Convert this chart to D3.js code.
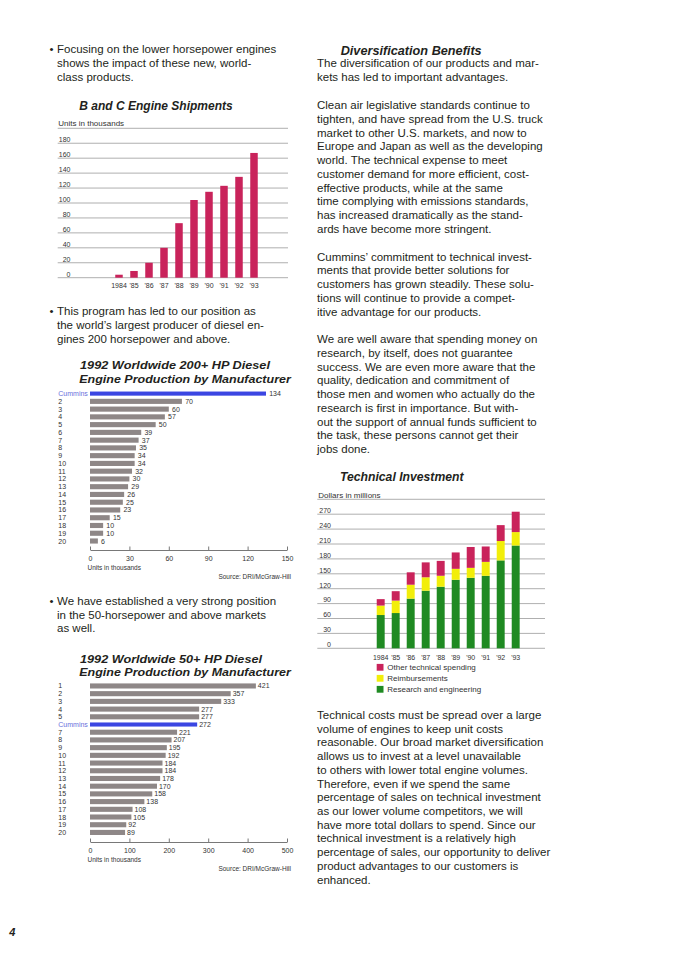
<!DOCTYPE html>
<html>
<head>
<meta charset="utf-8">
<script src="https://cdn.jsdelivr.net/npm/d3@7"></script>
<style>
  body { margin: 0; background: #fff; }
  svg { display: block; font-family: "Liberation Sans", Arial, Helvetica, sans-serif; }
</style>
</head>
<body>
<script>

// B and C Engine Shipments, units in thousands
var shipYears = ["1984", "'85", "'86", "'87", "'88", "'89", "'90", "'91", "'92", "'93"];
var shipUnits = [4, 9, 20, 40, 73, 104, 115, 123, 135, 167];
var shipTicks = [0, 20, 40, 60, 80, 100, 120, 140, 160, 180];

// 1992 worldwide 200+ HP diesel production, units in thousands
var hp200Makers = ["Cummins", "2", "3", "4", "5", "6", "7", "8", "9", "10",
                   "11", "12", "13", "14", "15", "16", "17", "18", "19", "20"];
var hp200Units = [134, 70, 60, 57, 50, 39, 37, 35, 34, 34, 32, 30, 29, 26, 25, 23, 15, 10, 10, 6];
var hp200Ticks = [0, 30, 60, 90, 120, 150];

// 1992 worldwide 50+ HP diesel production, units in thousands
var hp50Makers = ["1", "2", "3", "4", "5", "Cummins", "7", "8", "9", "10",
                  "11", "12", "13", "14", "15", "16", "17", "18", "19", "20"];
var hp50Units = [421, 357, 333, 277, 277, 272, 221, 207, 195, 192, 184, 184, 178, 170, 158, 138, 108, 105, 92, 89];
var hp50Ticks = [0, 100, 200, 300, 400, 500];

// Technical investment, dollars in millions
var techYears = ["1984", "'85", "'86", "'87", "'88", "'89", "'90", "'91", "'92", "'93"];
var techResearch = [67, 71, 100, 116, 124, 138, 142, 146, 177, 207];
var techReimburse = [19, 25, 28, 27, 22, 22, 20, 28, 39, 27];
var techOther = [13, 19, 25, 30, 30, 33, 42, 31, 32, 41];
var techTicks = [0, 30, 60, 90, 120, 150, 180, 210, 240, 270];
var techLegend = ["Other technical spending", "Reimbursements", "Research and engineering"];

var ink = "#231f20",
    grid = "#9a9a9a",
    crimson = "#c9235b",
    yellow = "#f2ee0a",
    green = "#1f8a22",
    gray = "#8e8787",
    blue = "#3b46e2",
    blueText = "#6a6edc",
    lineStep = 13.72;

var svg = d3.select("body").append("svg")
  .attr("width", 684)
  .attr("height", 970);

svg.append("rect").attr("width", 684).attr("height", 970).attr("fill", "#fff");

// ---------- text helpers ----------
function para(x, y0, lines) {
  svg.append("g").selectAll("text")
    .data(lines)
    .join("text")
      .attr("x", x)
      .attr("y", function (d, i) { return y0 + 4 + i * lineStep; })
      .attr("font-size", 11.5)
      .attr("fill", ink)
      .text(function (d) { return d; });
}

function bullet(y0, lines) {
  svg.append("text")
    .attr("x", 49.5)
    .attr("y", y0 + 4)
    .attr("font-size", 11.5)
    .attr("fill", ink)
    .text("\u2022");
  para(57, y0, lines);
}

function heading(x, y, str, size, width) {
  size = size || 12.5;
  var t = svg.append("text")
    .attr("x", x)
    .attr("y", y + size * 0.36)
    .attr("font-size", size)
    .attr("font-weight", "bold")
    .attr("font-style", "italic")
    .attr("fill", ink)
    .text(str);
  if (width) t.attr("textLength", width).attr("lengthAdjust", "spacingAndGlyphs");
  return t;
}

function small(x, y, str, size, anchor) {
  return svg.append("text")
    .attr("x", x)
    .attr("y", y + size * 0.36)
    .attr("font-size", size)
    .attr("text-anchor", anchor || "start")
    .attr("fill", "#333")
    .text(str);
}

// ---------- vertical column charts ----------
function shipmentsChart() {
  var x = d3.scaleBand().domain(shipYears).range([111.5, 261.5]).paddingInner(0.5).paddingOuter(0.25);
  var y = d3.scaleLinear().domain([0, 200]).range([277.7, 128.3]);
  var g = svg.append("g");

  g.selectAll("line.grid")
    .data(shipTicks.concat([200]))
    .join("line")
      .attr("class", "grid")
      .attr("x1", 57.7).attr("x2", 288)
      .attr("y1", function (d) { return y(d); })
      .attr("y2", function (d) { return y(d); })
      .attr("stroke", grid)
      .attr("stroke-width", 0.8);

  g.selectAll("text.ytick")
    .data(shipTicks)
    .join("text")
      .attr("class", "ytick")
      .attr("x", 70.5)
      .attr("y", function (d) { return y(d) - 1.2; })
      .attr("text-anchor", "end")
      .attr("font-size", 7)
      .attr("fill", "#333")
      .text(function (d) { return d; });

  g.selectAll("rect")
    .data(shipUnits)
    .join("rect")
      .attr("x", function (d, i) { return x(shipYears[i]); })
      .attr("y", function (d) { return y(d); })
      .attr("width", x.bandwidth())
      .attr("height", function (d) { return y(0) - y(d); })
      .attr("fill", crimson);

  var ax = g.append("g")
    .attr("transform", "translate(0," + y(0) + ")")
    .call(d3.axisBottom(x).tickSize(0).tickPadding(5.6));
  ax.select(".domain").remove();
  ax.selectAll("text").attr("font-size", 7).attr("fill", "#333")
    .attr("font-family", "Liberation Sans, Arial, sans-serif");

  small(58.3, 123.3, "Units in thousands", 8);
  heading(79.3, 106, "B and C Engine Shipments", 12);
}

function techChart() {
  var rows = techYears.map(function (yr, i) {
    return { year: yr, research: techResearch[i], reimburse: techReimburse[i], other: techOther[i] };
  });
  var keys = ["research", "reimburse", "other"];
  var colors = { research: green, reimburse: yellow, other: crimson };
  var stacked = d3.stack().keys(keys)(rows);

  var x = d3.scaleBand().domain(techYears).range([373.2, 523.2]).paddingInner(0.47).paddingOuter(0.235);
  var y = d3.scaleLinear().domain([0, 300]).range([648.3, 499.3]);
  var g = svg.append("g");

  g.selectAll("line.grid")
    .data(techTicks.concat([300]))
    .join("line")
      .attr("class", "grid")
      .attr("x1", 317.3).attr("x2", 545)
      .attr("y1", function (d) { return y(d); })
      .attr("y2", function (d) { return y(d); })
      .attr("stroke", grid)
      .attr("stroke-width", 0.8);

  g.selectAll("text.ytick")
    .data(techTicks)
    .join("text")
      .attr("class", "ytick")
      .attr("x", 331)
      .attr("y", function (d) { return y(d) - 1.2; })
      .attr("text-anchor", "end")
      .attr("font-size", 7)
      .attr("fill", "#333")
      .text(function (d) { return d; });

  g.selectAll("g.layer")
    .data(stacked)
    .join("g")
      .attr("class", "layer")
      .attr("fill", function (s) { return colors[s.key]; })
    .selectAll("rect")
    .data(function (s) { return s; })
    .join("rect")
      .attr("x", function (d) { return x(d.data.year); })
      .attr("y", function (d) { return y(d[1]); })
      .attr("width", x.bandwidth())
      .attr("height", function (d) { return y(d[0]) - y(d[1]); });

  var ax = g.append("g")
    .attr("transform", "translate(0," + y(0) + ")")
    .call(d3.axisBottom(x).tickSize(0).tickPadding(6.4));
  ax.select(".domain").remove();
  ax.selectAll("text").attr("font-size", 7).attr("fill", "#333")
    .attr("font-family", "Liberation Sans, Arial, sans-serif");

  var legColors = [crimson, yellow, green];
  var leg = g.selectAll("g.leg")
    .data(techLegend)
    .join("g")
      .attr("class", "leg")
      .attr("transform", function (d, i) { return "translate(376.7," + (667.3 + i * 11) + ")"; });
  leg.append("rect")
    .attr("x", 0).attr("y", -3.4)
    .attr("width", 6.8).attr("height", 6.8)
    .attr("fill", function (d, i) { return legColors[i]; });
  leg.append("text")
    .attr("x", 10.6).attr("y", 2.9)
    .attr("font-size", 8)
    .attr("fill", "#333")
    .text(function (d) { return d; });

  small(318.3, 495, "Dollars in millions", 8);
  heading(340, 476.7, "Technical Investment", 12.2);
}

// ---------- horizontal bar charts ----------
function hbarChart(cats, vals, ticks, o) {
  var x = d3.scaleLinear().domain([0, ticks[ticks.length - 1]]).range([90, 287]);
  var y = d3.scaleBand().domain(cats).range([o.top, o.top + cats.length * o.step]).padding(0.34);
  var g = svg.append("g");

  g.selectAll("rect")
    .data(vals)
    .join("rect")
      .attr("x", x(0))
      .attr("y", function (d, i) { return y(cats[i]) + (cats[i] === "Cummins" ? 0.5 : 0); })
      .attr("width", function (d) { return x(d) - x(0); })
      .attr("height", function (d, i) { return y.bandwidth() - (cats[i] === "Cummins" ? 1 : 0); })
      .attr("fill", function (d, i) { return cats[i] === "Cummins" ? blue : gray; });

  g.selectAll("text.val")
    .data(vals)
    .join("text")
      .attr("class", "val")
      .attr("x", function (d) { return x(d) + o.gap; })
      .attr("y", function (d, i) { return y(cats[i]) + y.bandwidth() / 2 + 2.5; })
      .attr("font-size", 7)
      .attr("fill", "#333")
      .text(function (d) { return d; });

  g.selectAll("text.cat")
    .data(cats)
    .join("text")
      .attr("class", "cat")
      .attr("x", 58.3)
      .attr("y", function (d) { return y(d) + y.bandwidth() / 2 + 2.5; })
      .attr("font-size", 7)
      .attr("fill", function (d) { return d === "Cummins" ? blueText : "#333"; })
      .text(function (d) { return d; });

  var ax = g.append("g")
    .attr("transform", "translate(0," + o.axisY + ")")
    .call(d3.axisBottom(x).tickValues(ticks).tickSize(-3.5).tickSizeOuter(0).tickPadding(6.2));
  ax.select(".domain").attr("stroke", "#555").attr("stroke-width", 0.8);
  ax.selectAll(".tick line").attr("stroke", "#555").attr("stroke-width", 0.8);
  ax.selectAll("text").attr("font-size", 7).attr("fill", "#333")
    .attr("font-family", "Liberation Sans, Arial, sans-serif");

  small(87.5, o.axisY + 18, "Units in thousands", 6.5);
  small(291, o.axisY + 26.5, "Source: DRI/McGraw-Hill", 6.5, "end");
  // two-line title, kept at the reference widths
  heading(80, o.titleY - 0.9, o.title[0], 11.8, o.titleW[0]);
  heading(79.3, o.titleY + 12.6, o.title[1], 11.8, o.titleW[1]);
}

// ---------- left column ----------
bullet(49.3, [
  "Focusing on the lower horsepower engines",
  "shows the impact of these new, world-",
  "class products."
]);

shipmentsChart();

bullet(311.3, [
  "This program has led to our position as",
  "the world\u2019s largest producer of diesel en-",
  "gines 200 horsepower and above."
]);

hbarChart(hp200Makers, hp200Units, hp200Ticks, {
  top: 388.4, step: 7.89, gap: 3.2, axisY: 550, titleY: 366,
  title: ["1992 Worldwide 200+ HP Diesel", "Engine Production by Manufacturer"],
  titleW: [190, 211.5]
});

bullet(601, [
  "We have established a very strong position",
  "in the 50-horsepower and above markets",
  "as well."
]);

hbarChart(hp50Makers, hp50Units, hp50Ticks, {
  top: 680.8, step: 7.84, gap: 2, axisY: 842, titleY: 659.3,
  title: ["1992 Worldwide 50+ HP Diesel", "Engine Production by Manufacturer"],
  titleW: [182, 211.5]
});

// ---------- right column ----------
heading(340.7, 50, "Diversification Benefits", 12.5, 141);

para(317, 63.3, [
  "The diversification of our products and mar-",
  "kets has led to important advantages."
]);

para(317, 105.3, [
  "Clean air legislative standards continue to",
  "tighten, and have spread from the U.S. truck",
  "market to other U.S. markets, and now to",
  "Europe and Japan as well as the developing",
  "world. The technical expense to meet",
  "customer demand for more efficient, cost-",
  "effective products, while at the same",
  "time complying with emissions standards,",
  "has increased dramatically as the stand-",
  "ards have become more stringent."
]);

para(317, 256.7, [
  "Cummins\u2019 commitment to technical invest-",
  "ments that provide better solutions for",
  "customers has grown steadily. These solu-",
  "tions will continue to provide a compet-",
  "itive advantage for our products."
]);

para(317, 339.3, [
  "We are well aware that spending money on",
  "research, by itself, does not guarantee",
  "success. We are even more aware that the",
  "quality, dedication and commitment of",
  "those men and women who actually do the",
  "research is first in importance. But with-",
  "out the support of annual funds sufficient to",
  "the task, these persons cannot get their",
  "jobs done."
]);

techChart();

para(317, 715, [
  "Technical costs must be spread over a large",
  "volume of engines to keep unit costs",
  "reasonable. Our broad market diversification",
  "allows us to invest at a level unavailable",
  "to others with lower total engine volumes.",
  "Therefore, even if we spend the same",
  "percentage of sales on technical investment",
  "as our lower volume competitors, we will",
  "have more total dollars to spend. Since our",
  "technical investment is a relatively high",
  "percentage of sales, our opportunity to deliver",
  "product advantages to our customers is",
  "enhanced."
]);

// page number
svg.append("text")
  .attr("x", 9.3)
  .attr("y", 936)
  .attr("font-size", 11)
  .attr("font-weight", "bold")
  .attr("font-style", "italic")
  .attr("fill", ink)
  .text("4");

</script>
</body>
</html>
